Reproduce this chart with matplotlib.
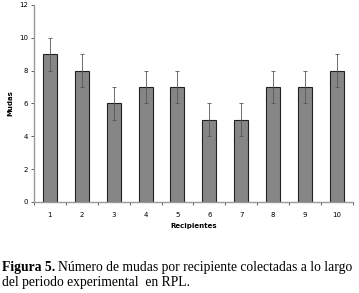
import matplotlib
matplotlib.use("Agg")
import matplotlib.pyplot as plt

# datos
recipientes = ["1", "2", "3", "4", "5", "6", "7", "8", "9", "10"]
mudas = [9, 8, 6, 7, 7, 5, 5, 7, 7, 8]
error = [1, 1, 1, 1, 1, 1, 1, 1, 1, 1]

fig = plt.figure(figsize=(3.59, 2.93), dpi=100)
ax = fig.add_axes([0.0947, 0.3106, 0.888, 0.6724])

x = range(len(recipientes))
ax.bar(x, mudas, width=0.44, color="#868686", edgecolor="#222222", linewidth=0.8,
       yerr=error, error_kw=dict(ecolor="#555555", elinewidth=0.6, capsize=1.5, capthick=0.6))

ax.set_xlim(-0.5, len(recipientes) - 0.5)
ax.set_ylim(0, 12)
ax.set_yticks(range(0, 13, 2))
ax.set_xticks(list(x))
ax.set_xticklabels(recipientes)
ax.set_xticks([i + 0.5 for i in range(-1, len(recipientes))], minor=True)
ax.tick_params(axis="x", which="major", length=0, labelsize=5, pad=7)
ax.tick_params(axis="x", which="minor", length=2.5, width=0.6, color="#444444")
ax.tick_params(axis="y", length=2.5, width=0.6, labelsize=5, pad=2, color="#444444")

for s in ["top", "right"]:
    ax.spines[s].set_visible(False)
ax.spines["left"].set_color("#999999")
ax.spines["left"].set_linewidth(1.0)
ax.spines["bottom"].set_color("#999999")
ax.spines["bottom"].set_linewidth(1.0)

ax.set_ylabel("Mudas", fontsize=5, fontweight="bold", labelpad=4)
ax.set_xlabel("Recipientes", fontsize=5, fontweight="bold", labelpad=4)

# pie de figura
cap_fs = 9.8
t1 = fig.text(0.006, 0.075, "Figura 5.", fontsize=cap_fs, family="Liberation Serif",
              fontweight="bold", va="baseline")
fig.canvas.draw()
bb = t1.get_window_extent(fig.canvas.get_renderer())
x2 = bb.x1 / fig.bbox.width + 0.008
fig.text(x2, 0.075, "Número de mudas por recipiente colectadas a lo largo",
         fontsize=cap_fs, family="Liberation Serif", va="baseline")
fig.text(0.006, 0.024, "del periodo experimental  en RPL.",
         fontsize=cap_fs, family="Liberation Serif", va="baseline")

fig.savefig("out.png", dpi=100, facecolor="white")
